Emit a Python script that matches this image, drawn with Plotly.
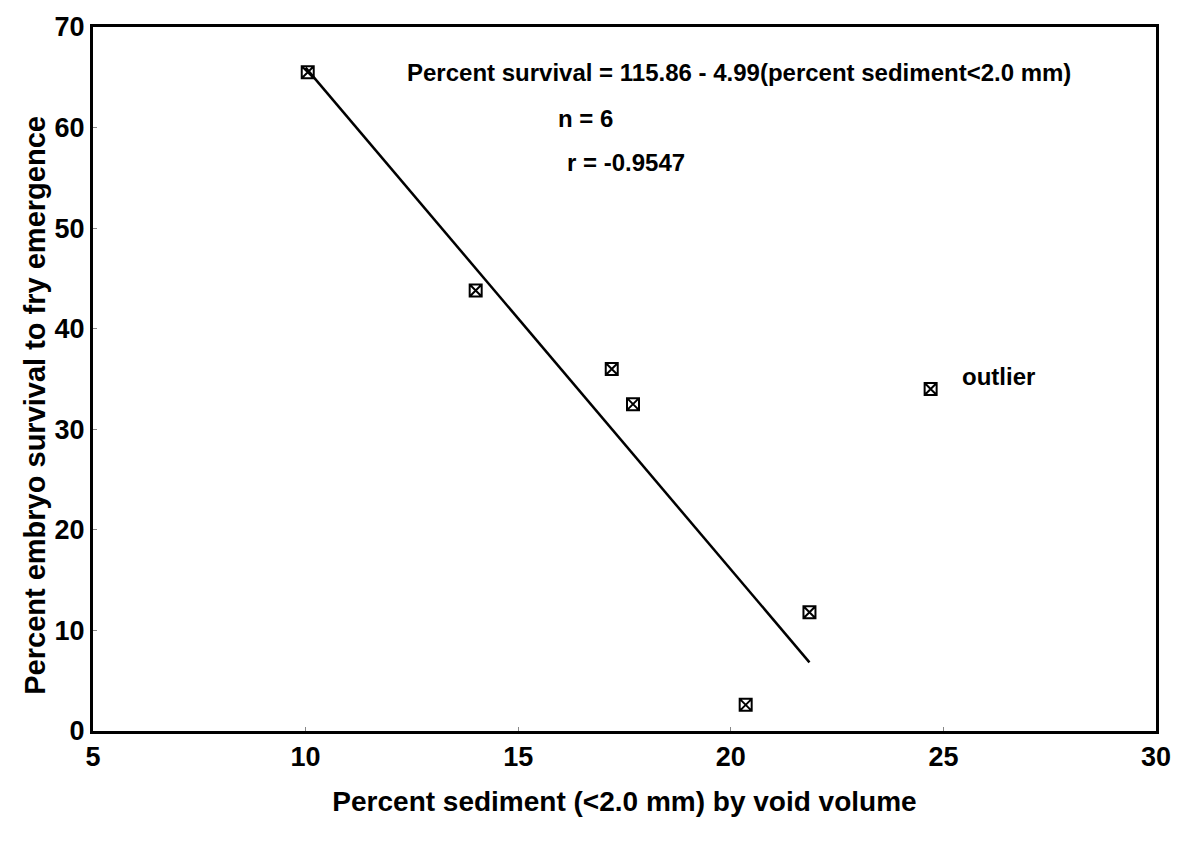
import plotly.graph_objects as go

# Observed data (percent sediment <2.0 mm by void volume, percent survival)
sediment = [10.05, 14.0, 17.2, 17.7, 21.85, 20.35, 24.7]
survival = [65.5, 43.8, 36.0, 32.5, 11.8, 2.6, 34.0]

# Regression (from the equation in the chart)
intercept = 115.86
slope = -4.99
fit_x = [10.0, 21.85]
fit_y = [intercept + slope * x for x in fit_x]

x_ticks = [5, 10, 15, 20, 25, 30]
y_ticks = [0, 10, 20, 30, 40, 50, 60, 70]

FONT = "Liberation Sans, Arial, sans-serif"

fig = go.Figure()
fig.add_trace(go.Scatter(
    x=fit_x, y=fit_y, mode="lines",
    line=dict(color="black", width=2.5), showlegend=False, hoverinfo="skip"))
fig.add_trace(go.Scatter(
    x=sediment, y=survival, mode="markers",
    marker=dict(symbol="square-x-open", size=12, color="black",
                line=dict(color="black", width=2)),
    showlegend=False))

ann_font = dict(family=FONT, size=24, color="black", weight="bold")
fig.add_annotation(x=20.2, y=65.5, text="Percent survival = 115.86 - 4.99(percent sediment<2.0 mm)",
                   showarrow=False, font=ann_font, xanchor="center", yanchor="middle")
fig.add_annotation(x=15.9, y=60.9, text="n = 6", showarrow=False, font=ann_font,
                   xanchor="left", yanchor="middle")
fig.add_annotation(x=16.1, y=56.5, text="r = -0.9547", showarrow=False, font=ann_font,
                   xanchor="left", yanchor="middle")
fig.add_annotation(x=25.4, y=35.2, text="outlier", showarrow=False, font=ann_font,
                   xanchor="left", yanchor="middle")

# Y axis title as rotated annotation (positioned like the reference)
fig.add_annotation(xref="paper", yref="paper", x=0, y=0.462, xshift=-58,
                   text="Percent embryo survival to fry emergence", textangle=-90,
                   showarrow=False, xanchor="center", yanchor="middle",
                   font=dict(family=FONT, size=29, color="black", weight="bold"))

axis_common = dict(
    showgrid=False, zeroline=False, showline=True, linecolor="black", linewidth=3,
    mirror=True, ticks="inside", ticklen=4, tickcolor="#888", tickwidth=1,
    tickfont=dict(family=FONT, size=27, color="black", weight="bold"),
)
fig.update_xaxes(range=[5, 30], tickvals=x_ticks, **axis_common,
                 title=dict(text="Percent sediment (<2.0 mm) by void volume",
                            font=dict(family=FONT, size=28, color="black", weight="bold"),
                            standoff=20))
fig.update_yaxes(range=[0, 70], tickvals=y_ticks, **axis_common)

fig.update_layout(
    width=1183, height=845,
    margin=dict(l=93, r=25, t=15, b=114),
    plot_bgcolor="white", paper_bgcolor="white",
)

fig.write_html("out.html")
